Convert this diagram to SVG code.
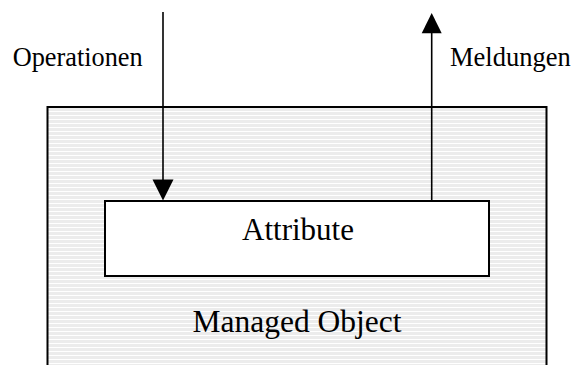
<svg xmlns="http://www.w3.org/2000/svg" width="574" height="365" viewBox="0 0 574 365">
  <style>
    .box { stroke: #000; stroke-width: 2; }
    .conn { stroke: #000; stroke-width: 1.6; fill: none; }
    .head { fill: #000; stroke: none; }
    text { font-family: "Liberation Serif", "Times New Roman", serif; fill: #000; }
  </style>
  <defs>
    <!-- light horizontal hatching for the managed object body -->
    <pattern id="hatch" x="0" y="0" width="8" height="4" patternUnits="userSpaceOnUse">
      <rect x="0" y="0" width="8" height="4" fill="#ffffff"/>
      <rect x="0" y="0" width="8" height="3" fill="#ececec"/>
    </pattern>
  </defs>
  <rect width="574" height="365" fill="#ffffff"/>

  <g id="managed-object">
    <path class="box" d="M47.5,370 V107 H546.5 V370" fill="url(#hatch)"/>
    <text x="297" y="332" font-size="31.5" text-anchor="middle">Managed Object</text>
  </g>

  <g id="attribute">
    <rect class="box" x="105" y="201" width="384" height="75" fill="#ffffff"/>
    <text x="298" y="240" font-size="31" text-anchor="middle">Attribute</text>
  </g>

  <g id="connectors">
    <!-- Operationen: incoming, down into Attribute -->
    <line class="conn" x1="163" y1="12" x2="163" y2="182"/>
    <polygon class="head" points="152.5,179.5 173.5,179.5 163,200.5"/>
    <!-- Meldungen: outgoing, up from Attribute -->
    <line class="conn" x1="431.7" y1="201" x2="431.7" y2="30"/>
    <polygon class="head" points="421.7,33.3 441.7,33.3 431.7,13"/>
  </g>

  <g id="labels">
    <text x="12.7" y="66" font-size="26.3">Operationen</text>
    <text x="450" y="65.5" font-size="26.5">Meldungen</text>
  </g>
</svg>
